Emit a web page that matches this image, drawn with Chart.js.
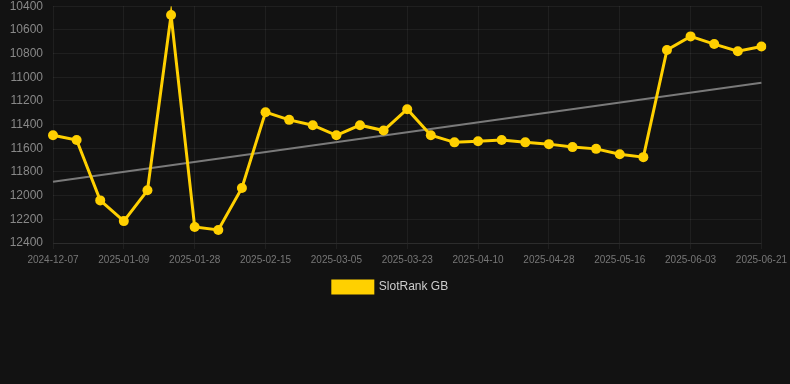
<!DOCTYPE html>
<html>
<head>
<meta charset="utf-8">
<script src="https://cdn.jsdelivr.net/npm/chart.js@4"></script>
<style>
  html, body { margin: 0; padding: 0; background: #121212; overflow: hidden; }
  #wrap { position: relative; width: 792px; height: 314px; margin-top: -11px; }
</style>
</head>
<body>
<div id="wrap"><canvas id="c"></canvas></div>
<script>
const categories = [
  "2024-12-07","2024-12-21","2025-01-03","2025-01-09","2025-01-15","2025-01-21",
  "2025-01-28","2025-02-03","2025-02-09","2025-02-15","2025-02-21","2025-02-27",
  "2025-03-05","2025-03-11","2025-03-17","2025-03-23","2025-03-29","2025-04-04",
  "2025-04-10","2025-04-16","2025-04-22","2025-04-28","2025-05-04","2025-05-10",
  "2025-05-16","2025-05-22","2025-05-28","2025-06-03","2025-06-09","2025-06-15",
  "2025-06-21"
];
const slotRankGB = [
  11490, 11530, 12040, 12215, 11955, 10475,
  12265, 12290, 11935, 11295, 11360, 11405,
  11490, 11405, 11450, 11270, 11490, 11550,
  11540, 11530, 11550, 11565, 11590, 11605,
  11650, 11675, 10770, 10655, 10720, 10780,
  10740
];
const trendStart = 11883;
const trendEnd = 11047;
const yTicks = { min: 10400, max: 12400, step: 200 };
const labelEvery = 3;

const trend = categories.map((_, i) => i === 0 ? trendStart : (i === categories.length - 1 ? trendEnd : null));

new Chart(document.getElementById('c'), {
  type: 'line',
  data: {
    labels: categories,
    datasets: [
      {
        label: 'SlotRank GB',
        data: slotRankGB,
        borderColor: '#FFD000',
        backgroundColor: '#FFD000',
        borderWidth: 3,
        pointRadius: 5,
        pointHoverRadius: 5,
        pointBackgroundColor: '#FFD000',
        pointBorderWidth: 0,
        tension: 0
      },
      {
        label: 'trend',
        data: trend,
        borderColor: '#7a7a7a',
        borderWidth: 2,
        pointRadius: 0,
        spanGaps: true,
        tension: 0
      }
    ]
  },
  options: {
    responsive: true,
    maintainAspectRatio: false,
    animation: false,
    layout: { padding: { top: 0, right: 11, left: 0, bottom: 0 } },
    plugins: {
      legend: {
        position: 'bottom',
        labels: {
          color: '#cccccc',
          font: { family: 'Liberation Sans, Arial, sans-serif', size: 12 },
          boxWidth: 40,
          boxHeight: 12,
          padding: 10,
          filter: (item) => item.text !== 'trend'
        }
      },
      tooltip: { enabled: false }
    },
    scales: {
      x: {
        offset: false,
        grid: { color: 'rgba(255,255,255,0.06)', drawTicks: true, tickLength: 6 },
        border: { color: 'rgba(255,255,255,0.06)' },
        ticks: {
          color: '#777777',
          padding: 5,
          font: { family: 'Liberation Sans, Arial, sans-serif', size: 10 },
          autoSkip: false,
          maxRotation: 0,
          callback: function(val, idx) { return idx % labelEvery === 0 ? this.getLabelForValue(val) : null; }
        }
      },
      y: {
        reverse: true,
        min: yTicks.min,
        max: yTicks.max,
        afterFit: (scale) => { scale.width = 53; },
        grid: { color: 'rgba(255,255,255,0.06)', drawTicks: false },
        border: { display: false },
        ticks: {
          stepSize: yTicks.step,
          color: '#888888',
          padding: 10,
          font: { family: 'Liberation Sans, Arial, sans-serif', size: 12 },
          callback: (v) => String(v)
        }
      }
    }
  }
});
</script>
</body>
</html>
